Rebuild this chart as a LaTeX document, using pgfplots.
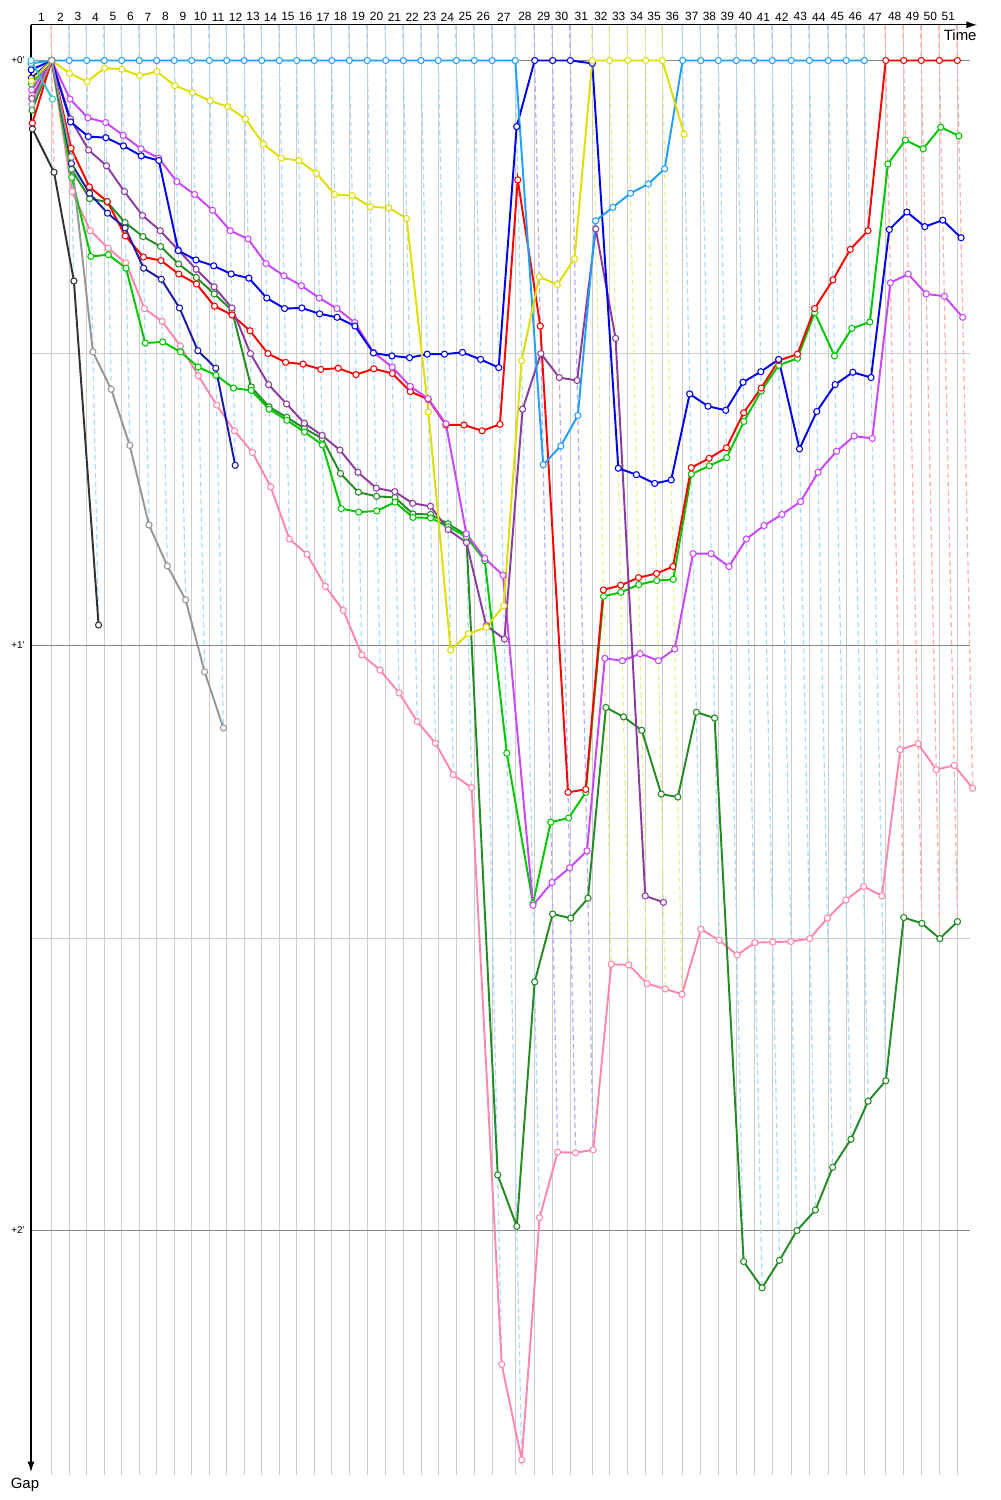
\documentclass[border=0pt]{standalone}
\usepackage{fontspec}
\setmainfont{Liberation Sans}
\usepackage{pgfplots}
\usepackage{pgfplotstable}
\pgfplotsset{compat=1.18}
\usetikzlibrary{arrows.meta}

\definecolor{clb}{RGB}{30,160,255}
\definecolor{cyel}{RGB}{222,222,0}
\definecolor{cblu}{RGB}{0,0,240}
\definecolor{cnav}{RGB}{25,25,170}
\definecolor{clim}{RGB}{0,200,0}
\definecolor{cdgr}{RGB}{34,139,34}
\definecolor{cred}{RGB}{255,0,0}
\definecolor{cvio}{RGB}{200,70,255}
\definecolor{cpur}{RGB}{140,60,160}
\definecolor{cpnk}{RGB}{255,136,170}
\definecolor{cgry}{RGB}{150,150,150}
\definecolor{cblk}{RGB}{50,50,50}
\definecolor{ccya}{RGB}{50,200,200}
\definecolor{dlb}{RGB}{170,220,255}
\definecolor{dbl}{RGB}{175,175,255}
\definecolor{dye}{RGB}{240,240,150}
\definecolor{drd}{RGB}{255,175,175}
\definecolor{gridlt}{RGB}{204,204,204}
\definecolor{griddk}{RGB}{136,136,136}

% t = leader time at end of lap (min), gm = largest gap on that lap, then gap of each car (min)
\pgfplotstableread{
lap t gm lb yel blu nav lim dgr red vio pur pnk gry blk cya
0 0.00 nan 0.005 0.035 0.016 0.030 0.040 0.085 0.107 0.050 0.065 0.060 0.075 0.117 0.000
1 1.68 0.191 0 0 0 0 0 0 0 0 0 0 0 0.191 0.066
2 3.11 0.377 0 0.022 0.105 0.176 0.200 0.186 0.150 0.066 0.100 0.224 0.165 0.377 nan
3 4.53 0.965 0 0.036 0.130 0.227 0.335 0.236 0.216 0.098 0.153 0.291 0.498 0.965 nan
4 5.96 0.562 0 0.013 0.132 0.261 0.332 0.242 0.241 0.106 0.180 0.321 0.562 nan nan
5 7.37 0.658 0 0.015 0.146 0.286 0.355 0.277 0.300 0.128 0.224 0.346 0.658 nan nan
6 8.80 0.794 0 0.026 0.163 0.355 0.483 0.301 0.336 0.151 0.265 0.424 0.794 nan nan
7 10.22 0.864 0 0.019 0.171 0.374 0.481 0.318 0.342 0.167 0.291 0.446 0.864 nan nan
8 11.65 0.922 0 0.043 0.325 0.423 0.498 0.348 0.365 0.207 0.324 0.488 0.922 nan nan
9 13.07 1.045 0 0.055 0.341 0.496 0.524 0.371 0.382 0.229 0.357 0.539 1.045 nan nan
10 14.50 1.141 0 0.069 0.351 0.526 0.538 0.399 0.420 0.256 0.387 0.589 1.141 nan nan
11 15.91 0.692 0 0.079 0.365 0.692 0.560 0.427 0.435 0.291 0.423 0.633 nan nan nan
12 17.34 0.670 0 0.100 0.372 nan 0.564 0.558 0.462 0.305 0.501 0.670 nan nan nan
13 18.76 0.729 0 0.143 0.406 nan 0.596 0.592 0.501 0.347 0.554 0.729 nan nan nan
14 20.19 0.818 0 0.167 0.424 nan 0.615 0.610 0.516 0.368 0.587 0.818 nan nan nan
15 21.60 0.844 0 0.171 0.423 nan 0.635 0.629 0.519 0.385 0.620 0.844 nan nan nan
16 23.03 0.899 0 0.193 0.433 nan 0.657 0.646 0.528 0.406 0.641 0.899 nan nan nan
17 24.45 0.940 0 0.229 0.439 nan 0.766 0.706 0.526 0.424 0.666 0.940 nan nan nan
18 25.88 1.016 0 0.231 0.454 nan 0.772 0.738 0.537 0.448 0.704 1.016 nan nan nan
19 27.34 1.042 0 0.250 0.500 nan 0.770 0.745 0.527 0.499 0.731 1.042 nan nan nan
20 28.84 1.081 0 0.252 0.505 nan 0.755 0.747 0.535 0.524 0.737 1.081 nan nan nan
21 30.27 1.130 0 0.270 0.508 nan 0.781 0.775 0.566 0.557 0.757 1.130 nan nan nan
22 31.71 1.167 0 0.601 0.502 nan 0.782 0.776 0.579 0.578 0.762 1.167 nan nan nan
23 33.11 1.221 0 1.008 0.502 nan 0.797 0.792 0.623 0.621 0.802 1.221 nan nan nan
24 34.58 1.243 0 0.980 0.499 nan 0.814 0.811 0.623 0.809 0.824 1.243 nan nan nan
25 36.04 2.229 0 0.969 0.511 nan 0.855 1.905 0.633 0.851 0.966 2.229 nan nan nan
26 37.50 2.392 0 0.932 0.525 nan 1.184 1.993 0.622 0.880 0.989 2.392 nan nan nan
27 39.37 1.978 0 0.513 0.113 nan 1.441 1.575 0.204 1.444 0.596 1.978 nan nan nan
28 40.95 1.866 0.691 0.370 0 nan 1.302 1.459 0.454 1.405 0.501 1.866 nan nan nan
29 42.41 1.867 0.659 0.383 0 nan 1.295 1.466 1.251 1.380 0.542 1.867 nan nan nan
30 43.85 1.862 0.607 0.339 0 nan 1.251 1.432 1.246 1.351 0.547 1.862 nan nan nan
31 45.63 1.545 0.274 0 0.005 nan 0.916 1.106 0.905 1.022 0.288 1.545 nan nan nan
32 47.05 1.546 0.251 0 0.697 nan 0.909 1.122 0.897 1.026 0.475 1.546 nan nan nan
33 48.51 1.578 0.227 0 0.708 nan 0.896 1.145 0.884 1.014 1.428 1.578 nan nan nan
34 49.98 1.587 0.211 0 0.723 nan 0.889 1.254 0.877 1.026 1.439 1.587 nan nan nan
35 51.33 1.596 0.185 0 0.717 nan 0.887 1.259 0.865 1.006 nan 1.596 nan nan nan
36 52.98 1.485 0 0.126 0.570 nan 0.707 1.114 0.696 0.843 nan 1.485 nan nan nan
37 54.45 1.504 0 nan 0.591 nan 0.693 1.124 0.680 0.843 nan 1.504 nan nan nan
38 55.88 2.053 0 nan 0.598 nan 0.679 2.053 0.662 0.865 nan 1.529 nan nan nan
39 57.34 2.098 0 nan 0.550 nan 0.617 2.098 0.602 0.818 nan 1.508 nan nan nan
40 58.80 2.051 0 nan 0.532 nan 0.565 2.051 0.560 0.795 nan 1.507 nan nan nan
41 60.27 2.000 0 nan 0.511 nan 0.521 2.000 0.513 0.776 nan 1.506 nan nan nan
42 61.81 1.965 0 nan 0.664 nan 0.509 1.965 0.502 0.754 nan 1.501 nan nan nan
43 63.28 1.892 0 nan 0.600 nan 0.431 1.892 0.424 0.704 nan 1.466 nan nan nan
44 64.82 1.844 0 nan 0.554 nan 0.505 1.844 0.375 0.668 nan 1.435 nan nan nan
45 66.28 1.779 0 nan 0.533 nan 0.458 1.779 0.323 0.642 nan 1.412 nan nan nan
46 67.75 1.744 0 nan 0.542 nan 0.447 1.744 0.291 0.646 nan 1.428 nan nan nan
47 69.49 1.465 nan nan 0.289 nan 0.177 1.465 0 0.380 nan 1.178 nan nan nan
48 70.95 1.475 nan nan 0.259 nan 0.136 1.475 0 0.365 nan 1.168 nan nan nan
49 72.38 1.501 nan nan 0.284 nan 0.151 1.501 0 0.399 nan 1.212 nan nan nan
50 73.85 1.472 nan nan 0.273 nan 0.114 1.472 0 0.403 nan 1.205 nan nan nan
51 75.31 1.244 nan nan 0.303 nan 0.129 nan 0 0.439 nan 1.244 nan nan nan
}\laps

\pgfplotsset{
  car/.style={line width=1.1pt, mark=*, mark size=1.75pt,
    mark options={solid, fill=white, line width=0.6pt}},
  lapline/.style={line width=0.7pt, dash pattern=on 3pt off 2pt, mark=none,
    quiver={u=\thisrow{gm}+0.061, v=\thisrow{gm}+0.061}},
}

\begin{document}
\begin{tikzpicture}
\begin{axis}[
  x=0.246cm, y=11.7cm, y dir=reverse,
  xmin=0, xmax=76.3, ymin=-0.061, ymax=2.418,
  axis line style={draw=none},
  clip=false,
  unbounded coords=jump,
  xtick={0.84,2.40,3.82,5.24,6.67,8.09,9.51,10.94,12.36,13.78,15.20,16.63,18.05,19.47,20.89,22.32,23.74,25.16,26.61,28.09,29.55,30.99,32.41,33.85,35.31,36.77,38.44,40.16,41.68,43.13,44.74,46.34,47.78,49.24,50.65,52.15,53.72,55.16,56.61,58.07,59.54,61.04,62.54,64.05,65.55,67.02,68.62,70.22,71.67,73.11,74.58},
  xticklabels={1,2,3,4,5,6,7,8,9,10,11,12,13,14,15,16,17,18,19,20,21,22,23,24,25,26,27,28,29,30,31,32,33,34,35,36,37,38,39,40,41,42,43,44,45,46,47,48,49,50,51},
  xticklabel pos=right,
  minor xtick={1.68,3.11,4.53,5.96,7.37,8.80,10.22,11.65,13.07,14.50,15.91,17.34,18.76,20.19,21.60,23.03,24.45,25.88,27.34,28.84,30.27,31.71,33.11,34.58,36.04,37.50,39.37,40.95,42.41,43.85,45.63,47.05,48.51,49.98,51.33,52.98,54.45,55.88,57.34,58.80,60.27,61.81,63.28,64.82,66.28,67.75,69.49,70.95,72.38,73.85,75.31},
  xminorgrids,
  ytick={0,1,2}, yticklabels={+0',+1',+2'},
  minor ytick={0.5,1.5},
  ymajorgrids, yminorgrids,
  major tick length=0pt, minor tick length=0pt,
  minor x grid style={color=gridlt, line width=0.55pt},
  major y grid style={color=griddk, line width=0.55pt},
  minor y grid style={color=gridlt, line width=0.55pt},
  xticklabel style={font=\fontsize{6.8}{7}\selectfont, yshift=-1.4pt},
  yticklabel style={font=\fontsize{5.6}{6}\selectfont},
]
% lap lines, coloured after the leader of the lap
\addplot[lapline, drd, restrict expr to domain={\thisrow{lap}}{1:1}] table[x expr=\thisrow{t}-0.061, y expr=-0.061] \laps;
\addplot[lapline, dlb, restrict expr to domain={\thisrow{lap}}{2:27}] table[x expr=\thisrow{t}-0.061, y expr=-0.061] \laps;
\addplot[lapline, dbl, restrict expr to domain={\thisrow{lap}}{28:30}] table[x expr=\thisrow{t}-0.061, y expr=-0.061] \laps;
\addplot[lapline, dye, restrict expr to domain={\thisrow{lap}}{31:35}] table[x expr=\thisrow{t}-0.061, y expr=-0.061] \laps;
\addplot[lapline, dlb, restrict expr to domain={\thisrow{lap}}{36:46}] table[x expr=\thisrow{t}-0.061, y expr=-0.061] \laps;
\addplot[lapline, drd, restrict expr to domain={\thisrow{lap}}{47:51}] table[x expr=\thisrow{t}-0.061, y expr=-0.061] \laps;

% cars: x = leader time + gap
\addplot[car, cpnk] table[x expr=\thisrow{t}+\thisrow{pnk}, y=pnk] \laps;
\addplot[car, cdgr] table[x expr=\thisrow{t}+\thisrow{dgr}, y=dgr] \laps;
\addplot[car, clim] table[x expr=\thisrow{t}+\thisrow{lim}, y=lim] \laps;
\addplot[car, cred] table[x expr=\thisrow{t}+\thisrow{red}, y=red] \laps;
\addplot[car, cvio] table[x expr=\thisrow{t}+\thisrow{vio}, y=vio] \laps;
\addplot[car, cpur] table[x expr=\thisrow{t}+\thisrow{pur}, y=pur] \laps;
\addplot[car, cnav] table[x expr=\thisrow{t}+\thisrow{nav}, y=nav] \laps;
\addplot[car, cblu] table[x expr=\thisrow{t}+\thisrow{blu}, y=blu] \laps;
\addplot[car, clb] table[x expr=\thisrow{t}+\thisrow{lb}, y=lb] \laps;
\addplot[car, cyel] table[x expr=\thisrow{t}+\thisrow{yel}, y=yel] \laps;
\addplot[car, cblk] table[x expr=\thisrow{t}+\thisrow{blk}, y=blk] \laps;
\addplot[car, ccya] table[x expr=\thisrow{t}+\thisrow{cya}, y=cya] \laps;
\addplot[car, cgry] table[x expr=\thisrow{t}+\thisrow{gry}, y=gry] \laps;

\draw[line width=0.6pt, -{Latex[length=6pt,width=4pt]}] (axis cs:0,-0.061) -- (axis cs:76.9,-0.061);
\draw[line width=0.6pt, -{Latex[length=6pt,width=4pt]}] (axis cs:0,-0.061) -- (axis cs:0,2.413);
\node[anchor=north east, inner sep=0pt, font=\fontsize{8.5}{9}\selectfont] at (axis cs:76.9,-0.053) {Time};
\node[anchor=north, inner sep=0pt, font=\fontsize{8.5}{9}\selectfont] at (axis cs:-0.49,2.422) {Gap};
\coordinate (bbA) at (axis cs:-2.52,-0.1034);
\coordinate (bbB) at (axis cs:78.78,2.4607);
\end{axis}
\path (bbA) rectangle (bbB);
\end{tikzpicture}
\end{document}
